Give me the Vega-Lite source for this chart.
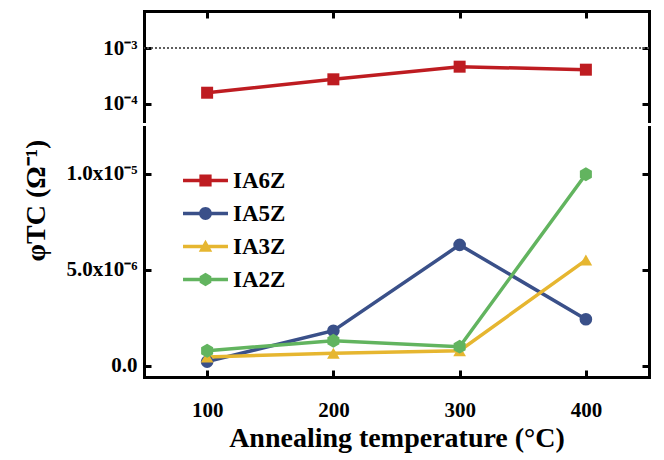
{
  "$schema": "https://vega.github.io/schema/vega-lite/v6.json",
  "background": "white",
  "padding": {"left": 22, "top": 9, "right": 12, "bottom": 2},
  "spacing": 6,
  "config": {
    "view": {"stroke": null},
    "font": "Liberation Serif",
    "axis": {
      "grid": false,
      "domainColor": "black",
      "domainWidth": 3,
      "domainCap": "square",
      "tickColor": "black",
      "tickWidth": 3,
      "tickSize": -7,
      "labelFont": "Liberation Serif",
      "labelFontWeight": "bold",
      "labelFontSize": 21,
      "labelColor": "black",
      "labelPadding": 14,
      "titleFont": "Liberation Serif",
      "titleFontWeight": "bold",
      "titleColor": "black"
    }
  },
  "datasets": {
    "d": [
      {"T": 100, "series": "IA6Z", "v": 1.59e-4},
      {"T": 200, "series": "IA6Z", "v": 2.76e-4},
      {"T": 300, "series": "IA6Z", "v": 4.64e-4},
      {"T": 400, "series": "IA6Z", "v": 4.1e-4},
      {"T": 100, "series": "IA5Z", "v": 0.21e-6},
      {"T": 200, "series": "IA5Z", "v": 1.82e-6},
      {"T": 300, "series": "IA5Z", "v": 6.29e-6},
      {"T": 400, "series": "IA5Z", "v": 2.42e-6},
      {"T": 100, "series": "IA3Z", "v": 0.45e-6},
      {"T": 200, "series": "IA3Z", "v": 0.65e-6},
      {"T": 300, "series": "IA3Z", "v": 0.78e-6},
      {"T": 400, "series": "IA3Z", "v": 5.5e-6},
      {"T": 100, "series": "IA2Z", "v": 0.78e-6},
      {"T": 200, "series": "IA2Z", "v": 1.30e-6},
      {"T": 300, "series": "IA2Z", "v": 0.99e-6},
      {"T": 400, "series": "IA2Z", "v": 9.97e-6}
    ]
  },
  "vconcat": [
    {
      "width": 505,
      "height": 110,
      "data": {"name": "d"},
      "transform": [{"filter": "datum.series == 'IA6Z'"}],
      "layer": [
        {
          "mark": {"type": "rule", "color": "#555555", "strokeDash": [2, 2], "strokeWidth": 1},
          "encoding": {
            "y": {"datum": 0.001, "type": "quantitative", "axis": null}
          }
        },
        {
          "mark": {"type": "line", "color": "#BE1C21", "strokeWidth": 3.5},
          "encoding": {
            "x": {"field": "T", "type": "quantitative", "scale": {"domain": [50, 450], "nice": false, "zero": false},
                  "axis": {"orient": "top", "labels": false, "title": null, "values": [100, 200, 300, 400]}},
            "y": {"field": "v", "type": "quantitative", "scale": {"type": "log", "domain": [4.97e-5, 4.58e-3], "nice": false},
                  "axis": {"orient": "left", "values": [0.0001, 0.001], "title": null,
                           "labelExpr": "datum.value > 0.0005 ? '10⁻³' : '10⁻⁴'"}}
          }
        },
        {
          "mark": {"type": "point", "shape": "square", "filled": true, "opacity": 1, "size": 144, "color": "#BE1C21"},
          "encoding": {
            "x": {"field": "T", "type": "quantitative", "axis": null},
            "y": {"field": "v", "type": "quantitative",
                  "axis": {"orient": "right", "labels": false, "values": [0.0001, 0.001], "title": null}}
          }
        }
      ],
      "resolve": {"axis": {"x": "independent", "y": "independent"}}
    },
    {
      "width": 505,
      "height": 250,
      "data": {"name": "d"},
      "transform": [{"filter": "datum.series != 'IA6Z'"}],
      "layer": [
        {
          "mark": {"type": "line", "strokeWidth": 3.5},
          "encoding": {
            "x": {"field": "T", "type": "quantitative", "scale": {"domain": [50, 450], "nice": false, "zero": false},
                  "axis": {"orient": "bottom", "values": [100, 200, 300, 400], "title": "Annealing temperature (°C)",
                           "titleFontSize": 28, "labelPadding": 29, "titlePadding": 4}},
            "y": {"field": "v", "type": "quantitative", "scale": {"domain": [-5.9e-7, 1.243e-5], "nice": false, "zero": false},
                  "axis": {"orient": "left", "values": [0, 5e-6, 1e-5], "title": "φTC (Ω⁻¹)", "titleFontSize": 28,
                           "titleX": -108, "titleY": 73, "titleBaseline": "middle",
                           "labelExpr": "datum.value == 0 ? '0.0' : (datum.value > 7e-6 ? '1.0x10⁻⁵' : '5.0x10⁻⁶')"}},
            "color": {"field": "series", "type": "nominal",
                      "scale": {"domain": ["IA6Z", "IA5Z", "IA3Z", "IA2Z"], "range": ["#BE1C21", "#3A5089", "#E6B630", "#62B45F"]},
                      "legend": null}
          }
        },
        {
          "mark": {"type": "point", "filled": true, "opacity": 1, "size": 160},
          "encoding": {
            "x": {"field": "T", "type": "quantitative", "axis": null},
            "y": {"field": "v", "type": "quantitative",
                  "axis": {"orient": "right", "labels": false, "values": [0, 5e-6, 1e-5], "title": null}},
            "color": {"field": "series", "type": "nominal",
                      "scale": {"domain": ["IA6Z", "IA5Z", "IA3Z", "IA2Z"], "range": ["#BE1C21", "#3A5089", "#E6B630", "#62B45F"]},
                      "legend": null},
            "shape": {"field": "series", "type": "nominal",
                      "scale": {"domain": ["IA6Z", "IA5Z", "IA3Z", "IA2Z"],
                                "range": ["square", "circle", "triangle-up", "M0,-1.1L0.95,-0.55V0.55L0,1.1L-0.95,0.55V-0.55Z"]},
                      "legend": null}
          }
        },
        {
          "mark": {"type": "point", "filled": true, "opacity": 0, "size": 150},
          "encoding": {
            "x": {"field": "T", "type": "quantitative", "axis": null},
            "y": {"field": "v", "type": "quantitative", "axis": null},
            "color": {"field": "series", "type": "nominal",
                      "scale": {"domain": ["IA6Z", "IA5Z", "IA3Z", "IA2Z"], "range": ["#BE1C21", "#3A5089", "#E6B630", "#62B45F"]},
                      "legend": {"orient": "none", "legendX": 50, "legendY": 42, "title": null, "padding": 0,
                                 "labelFont": "Liberation Serif", "labelFontWeight": "bold", "labelFontSize": 23, "labelColor": "black",
                                 "symbolSize": 150, "labelOffset": 16, "rowPadding": 9, "symbolOpacity": 1, "symbolStrokeWidth": 0}},
            "shape": {"field": "series", "type": "nominal",
                      "scale": {"domain": ["IA6Z", "IA5Z", "IA3Z", "IA2Z"],
                                "range": [
                                  "M-3.67,-0.29H3.67V0.29H-3.67Z M-1,-1H1V1H-1Z",
                                  "M-3.67,-0.29H3.67V0.29H-3.67Z M-1.05,0A1.05,1.05 0 1,1 1.05,0A1.05,1.05 0 1,1 -1.05,0Z",
                                  "M-3.67,-0.29H3.67V0.29H-3.67Z M0,-1.1L1.1,0.85H-1.1Z",
                                  "M-3.67,-0.29H3.67V0.29H-3.67Z M0,-1.1L0.95,-0.55V0.55L0,1.1L-0.95,0.55V-0.55Z"
                                ]},
                      "legend": {"orient": "none", "legendX": 50, "legendY": 42, "title": null, "padding": 0,
                                 "labelFont": "Liberation Serif", "labelFontWeight": "bold", "labelFontSize": 23, "labelColor": "black",
                                 "symbolSize": 150, "labelOffset": 16, "rowPadding": 9, "symbolOpacity": 1, "symbolStrokeWidth": 0}}
          }
        }
      ],
      "resolve": {"axis": {"x": "independent", "y": "independent"}, "scale": {"shape": "independent", "color": "independent"}}
    }
  ]
}
